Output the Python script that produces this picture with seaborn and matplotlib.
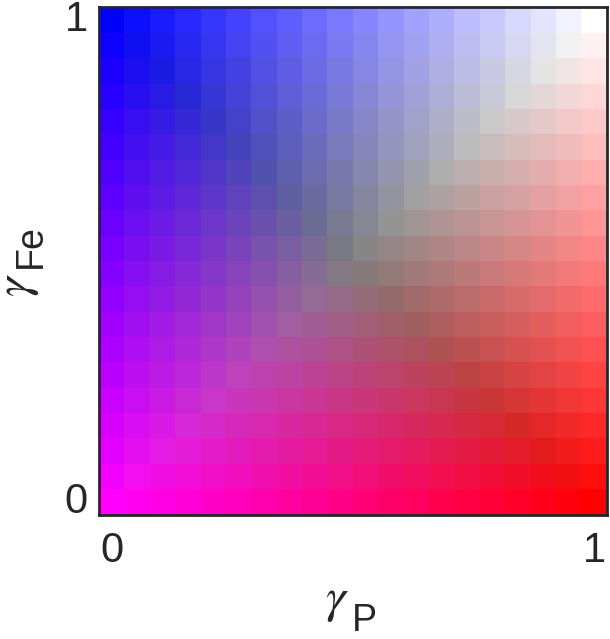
import numpy as np
import pandas as pd
import matplotlib
matplotlib.use("Agg")
import matplotlib.pyplot as plt
from matplotlib.colors import ListedColormap
import seaborn as sns

# grid levels (20 x 20 cells)
gamma_p = [0.0, 0.053, 0.105, 0.158, 0.211, 0.263, 0.316, 0.368, 0.421, 0.474,
           0.526, 0.579, 0.632, 0.684, 0.737, 0.789, 0.842, 0.895, 0.947, 1.0]
gamma_fe = [0.0, 0.053, 0.105, 0.158, 0.211, 0.263, 0.316, 0.368, 0.421, 0.474,
            0.526, 0.579, 0.632, 0.684, 0.737, 0.789, 0.842, 0.895, 0.947, 1.0]
x_ticklabels = ["0", "1"]
y_ticklabels = ["1", "0"]
x_label = (r"$\gamma$", "P")
y_label = (r"$\gamma$", "Fe")

W, H = 610, 639


def cell_colour(gp, gfe):
    """Bivariate legend colour: blue (P-limited) / red (Fe-limited)."""
    r = max(gp, 1 - gfe)
    g = min(gp, gfe)
    b = max(1 - gp, gfe)
    return (r, g, b)


def px(x, y):
    """pixel position (from top-left) -> figure fraction"""
    return x / W, 1 - y / H


def main():
    sns.set_style("white")
    plt.rcParams["font.family"] = ["Liberation Sans", "DejaVu Sans"]
    plt.rcParams["mathtext.fontset"] = "custom"
    plt.rcParams["mathtext.rm"] = "Liberation Sans"
    plt.rcParams["mathtext.it"] = "STIXGeneral:italic"

    rows = gamma_fe[::-1]  # top row is gamma_Fe = 1
    colours = [cell_colour(gp, gfe) for gfe in rows for gp in gamma_p]
    idx = np.arange(len(colours)).reshape(len(rows), len(gamma_p))
    df = pd.DataFrame(idx, index=rows, columns=gamma_p)

    fig = plt.figure(figsize=(W / 100, H / 100), dpi=100)
    ax = fig.add_axes([0.1623, 0.1948, 0.8323, 0.7935])
    sns.heatmap(df, cmap=ListedColormap(colours), vmin=-0.5, vmax=len(colours) - 0.5,
                cbar=False, ax=ax, square=False)

    for s in ax.spines.values():
        s.set_visible(True)
        s.set_color("#262626")
        s.set_linewidth(2)

    n = len(gamma_p)
    ax.set_xticks([0.5, n - 0.5])
    ax.set_xticklabels(x_ticklabels, rotation=0)
    ax.set_yticks([0.5, len(rows) - 0.5])
    ax.set_yticklabels(y_ticklabels, rotation=0)
    ax.tick_params(direction="in", length=5, width=2, color="#262626",
                   top=True, right=True, labelsize=30, labelcolor="#262626")
    ax.tick_params(axis="x", pad=12)
    ax.tick_params(axis="y", pad=8)
    ax.set_xlabel("")
    ax.set_ylabel("")

    # axis labels: greek symbol with a big, lowered subscript (MATLAB tex style)
    greek = dict(fontsize=36, color="#262626")
    sub = dict(fontsize=27, color="#262626")
    fig.text(*px(325, 612), x_label[0], ha="left", va="baseline", **greek)
    fig.text(*px(352, 631), x_label[1], ha="left", va="baseline", **sub)
    fig.text(*px(29, 297), y_label[0], ha="left", va="baseline", rotation=90,
             rotation_mode="anchor", **greek)
    fig.text(*px(49, 268), y_label[1], ha="right", va="bottom", rotation=90, **sub)

    fig.savefig("out.png", dpi=100)


if __name__ == "__main__":
    main()
